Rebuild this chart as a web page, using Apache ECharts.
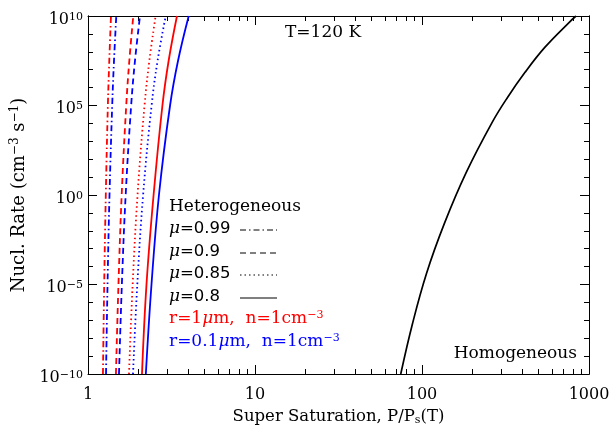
<!DOCTYPE html>
<html><head><meta charset="utf-8">
<script src="https://cdn.jsdelivr.net/npm/echarts@6/dist/echarts.min.js"></script>
<style>html,body{margin:0;padding:0;background:#fff}#c{width:615px;height:426px}</style>
</head><body><div id="c"></div>
<script>
// Nucleation rate levels (cm^-3 s^-1) at which heterogeneous curves were read
const jLevels = [1e-10, 1e-5, 1, 1e5, 3.16e7, 1e10];
// Super saturation values, r = 1 micron (red)
const sRed099 = [1.229, 1.250, 1.278, 1.315, 1.341, 1.373];
const sRed090 = [1.470, 1.522, 1.591, 1.694, 1.768, 1.867];
const sRed085 = [1.760, 1.851, 1.980, 2.180, 2.330, 2.540];
const sRed080 = [2.105, 2.240, 2.470, 2.790, 3.040, 3.410];
// r = 0.1 micron (blue)
const sBlue099 = [1.282, 1.309, 1.345, 1.396, 1.431, 1.477];
const sBlue090 = [1.533, 1.595, 1.681, 1.813, 1.911, 2.048];
const sBlue085 = [1.860, 1.973, 2.138, 2.403, 2.610, 2.920];
const sBlue080 = [2.220, 2.400, 2.660, 3.100, 3.460, 4.010];
// Homogeneous curve
const sHomo = [74.6, 87.7, 106.4, 136.4, 183.5, 262.6, 325.1, 413.9, 545.2, 764.4, 836];
const jHomo = [1e-10, 6.45e-8, 4.15e-5, 0.0267, 17.2, 1.11e4, 2.81e5, 7.14e6, 1.81e8, 4.6e9, 1e10];
// Axis tick labels
const xTickLabels = ['1', '10', '100', '1000'];
const yTickExps = [-10, -5, 0, 5, 10];

const FONT = 'DejaVu Serif';
const SANS = 'DejaVu Sans';
const RED = '#ff0000', BLUE = '#0000ff';
const DASHDOT = [6, 3, 1.5, 3], DASHED = [6, 4], DOTTED = [1.5, 3];

function pairs(xs, ys) { return xs.map((x, i) => [x, ys[i]]); }
function lineSeries(xs, ys, color, dash, width) {
  return {
    type: 'line', xAxisIndex: 0, yAxisIndex: 0, data: pairs(xs, ys),
    showSymbol: false, symbol: 'none', smooth: 0.4, clip: true,
    lineStyle: { color: color, width: width || 1.8, type: dash || 'solid' },
    silent: true, animation: false
  };
}
const supRich = {
  b: { fontFamily: FONT, fontSize: 16, color: '#000', verticalAlign: 'top', lineHeight: 18 },
  s: { fontFamily: FONT, fontSize: 11, color: '#000', verticalAlign: 'top', lineHeight: 8 }
};
function yLabel(v) {
  const e = Math.round(Math.log10(v));
  if (yTickExps.indexOf(e) < 0) return '';
  return '{b|10}{s|' + (e < 0 ? '\u2212' + (-e) : e) + '}';
}
function xLabel(v) {
  const e = Math.round(Math.log10(v));
  return xTickLabels[e] || '';
}
const axisLineStyle = { color: '#000', width: 1 };
function xAx(pos, showLabels, gridIndex) {
  return {
    type: 'log', logBase: 10, min: 1, max: 1000, gridIndex: gridIndex || 0, position: pos,
    show: true,
    axisLine: { show: true, lineStyle: axisLineStyle },
    axisTick: { show: true, inside: true, length: 9, lineStyle: axisLineStyle },
    minorTick: { show: true, splitNumber: 9, length: 5, lineStyle: axisLineStyle },
    splitLine: { show: false }, minorSplitLine: { show: false },
    axisLabel: { show: showLabels, formatter: xLabel, color: '#000', fontFamily: FONT, fontSize: 16, margin: 13 },
    name: showLabels ? '{a|Super Saturation, P/P}{u|s}{a|(T)}' : '',
    nameLocation: 'middle', nameGap: 31,
    nameTextStyle: { rich: {
      a: { fontFamily: FONT, fontSize: 16.5, color: '#000', verticalAlign: 'top', lineHeight: 18 },
      u: { fontFamily: FONT, fontSize: 11, color: '#000', verticalAlign: 'bottom', lineHeight: 6 }
    } }
  };
}
function yAx(pos, interval, tickLen, showLabels, gridIndex) {
  return {
    type: 'log', logBase: 10, min: 1e-10, max: 1e10, interval: interval,
    gridIndex: gridIndex, position: pos,
    axisLine: { show: true, lineStyle: axisLineStyle },
    axisTick: { show: true, inside: true, length: tickLen, lineStyle: axisLineStyle },
    minorTick: { show: false },
    splitLine: { show: false }, minorSplitLine: { show: false },
    axisLabel: { show: showLabels, formatter: yLabel, rich: supRich, margin: 5, align: 'right', padding: [9, 0, 0, 0] },
    name: showLabels ? '{a|Nucl. Rate (cm}{s|\u22123}{a| s}{s|\u22121}{a|)}' : '',
    nameLocation: 'middle', nameGap: 58, nameRotate: 90,
    nameTextStyle: { rich: {
      a: { fontFamily: FONT, fontSize: 18, color: '#000', verticalAlign: 'bottom', lineHeight: 20 },
      s: { fontFamily: FONT, fontSize: 12, color: '#000', verticalAlign: 'top', lineHeight: 6 }
    } }
  };
}

const gridRect = { left: 88, right: 26, top: 16, bottom: 52, containLabel: false, outerBoundsMode: 'none' };
const T17 = '17px "' + FONT + '"';
const legendRows = [
  { num: '0.99', y: 230, dash: DASHDOT },
  { num: '0.9', y: 253, dash: DASHED },
  { num: '0.85', y: 275, dash: DOTTED },
  { num: '0.8', y: 298, dash: null }
];
function richFor(color) {
  return {
    i: { fontFamily: FONT, fontStyle: 'italic', fontSize: 17, fill: color, verticalAlign: 'top', lineHeight: 20 },
    s: { fontFamily: FONT, fontSize: 11, fill: color, verticalAlign: 'top', lineHeight: 8 },
    n: { fontFamily: FONT, fontSize: 17, fill: color, verticalAlign: 'top', lineHeight: 20 },
    d: { fontFamily: SANS, fontSize: 16.5, fill: color, verticalAlign: 'top', lineHeight: 20 }
  };
}
const graphics = [
  { type: 'text', x: 285, y: 33, style: { text: 'T=120 K', font: T17, fill: '#000', verticalAlign: 'middle' } },
  { type: 'text', x: 577, y: 354, style: { text: 'Homogeneous', font: T17, fill: '#000', align: 'right', verticalAlign: 'middle' } },
  { type: 'text', x: 169, y: 207, style: { text: 'Heterogeneous', font: T17, fill: '#000', verticalAlign: 'middle' } }
];
legendRows.forEach(r => {
  graphics.push({ type: 'text', x: 169, y: r.y, style: { text: '{i|\u03bc}{d|=' + r.num + '}', font: T17, fill: '#000', verticalAlign: 'middle', rich: richFor('#000') } });
  graphics.push({ type: 'line', shape: { x1: 240, y1: r.y, x2: 277, y2: r.y }, style: { stroke: '#000', lineWidth: 1, lineDash: r.dash || null } });
});
graphics.push({ type: 'text', x: 169, y: 320, style: { text: '{n|r=1}{i|\u03bc}{n|m,  n=1cm}{s|\u22123}', font: T17, fill: RED, verticalAlign: 'middle', rich: richFor(RED) } });
graphics.push({ type: 'text', x: 169, y: 343, style: { text: '{n|r=0.1}{i|\u03bc}{n|m,  n=1cm}{s|\u22123}', font: T17, fill: BLUE, verticalAlign: 'middle', rich: richFor(BLUE) } });

const chart = echarts.init(document.getElementById('c'), null, { renderer: 'canvas' });
chart.setOption({
  backgroundColor: '#fff',
  animation: false,
  grid: [Object.assign({}, gridRect), Object.assign({}, gridRect)],
  xAxis: [xAx('bottom', true, 0), xAx('top', false, 0),
          Object.assign(xAx('bottom', false, 1), { show: false })],
  yAxis: [yAx('left', 5, 9, true, 0), yAx('right', 5, 9, false, 0),
          yAx('left', 1, 5, false, 1), yAx('right', 1, 5, false, 1)],
  series: [
    lineSeries(sRed099, jLevels, RED, DASHDOT),
    lineSeries(sBlue099, jLevels, BLUE, DASHDOT),
    lineSeries(sRed090, jLevels, RED, DASHED),
    lineSeries(sBlue090, jLevels, BLUE, DASHED),
    lineSeries(sRed085, jLevels, RED, DOTTED),
    lineSeries(sBlue085, jLevels, BLUE, DOTTED),
    lineSeries(sRed080, jLevels, RED, 'solid'),
    lineSeries(sBlue080, jLevels, BLUE, 'solid'),
    lineSeries(sHomo, jHomo, '#000', 'solid', 1.7)
  ],
  graphic: graphics
});
</script></body></html>
